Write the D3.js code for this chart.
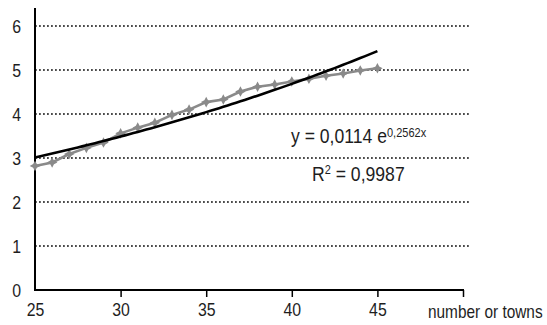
<!DOCTYPE html>
<html>
<head>
<meta charset="utf-8">
<script src="https://cdn.jsdelivr.net/npm/d3@7"></script>
<style>
  html, body { margin: 0; padding: 0; background: #fff; }
  svg { display: block; }
  text { font-family: "Liberation Sans", Arial, sans-serif; fill: #1e1e1e; }
</style>
</head>
<body>
<svg id="chart" width="547" height="325"></svg>
<script>
// Number of towns and the measured value for each
const towns = [25, 26, 27, 28, 29, 30, 31, 32, 33, 34, 35, 36, 37, 38, 39, 40, 41, 42, 43, 44, 45];
const values = [2.82, 2.90, 3.09, 3.23, 3.35, 3.56, 3.69, 3.80, 3.98, 4.10, 4.27, 4.33, 4.51, 4.62, 4.67, 4.74, 4.80, 4.87, 4.92, 4.99, 5.04];
const xTicks = [25, 30, 35, 40, 45, 50];
const xTickLabels = ["25", "30", "35", "40", "45", ""];
const yTicks = [0, 1, 2, 3, 4, 5, 6];
const xAxisTitle = "number or towns";
const equationText = "y = 0,0114 e";
const equationExp = "0,2562x";
const rSquaredText = "= 0,9987";

const svg = d3.select("#chart");
const plot = { left: 35, right: 463, top: 26, bottom: 290 };
const narrow = 0.88; // horizontal squeeze for the condensed lettering

// Squeeze text horizontally while keeping its anchor point in place
function condense(sel) {
  sel.each(function () {
    const t = d3.select(this);
    const px = +t.attr("x") || 0;
    t.attr("x", px / narrow).attr("transform", `scale(${narrow},1)`);
  });
}

const x = d3.scaleLinear().domain([25, 50]).range([plot.left, plot.right]);
const y = d3.scaleLinear().domain([0, 6]).range([plot.bottom, plot.top]);

// Dotted horizontal gridlines
svg.append("g")
  .selectAll("line")
  .data(yTicks.filter(d => d > 0))
  .join("line")
  .attr("x1", plot.left).attr("x2", 470)
  .attr("y1", d => y(d)).attr("y2", d => y(d))
  .attr("stroke", "#111").attr("stroke-width", 1.6)
  .attr("stroke-dasharray", "1.8,2.2");

// Y axis
const yAxis = d3.axisLeft(y).tickValues(yTicks).tickSize(0).tickPadding(14).tickFormat(d3.format("d"));
const gy = svg.append("g").attr("transform", `translate(${plot.left},0)`).call(yAxis);
gy.select(".domain").remove();
gy.selectAll("text").attr("font-size", 18).attr("font-family", null).attr("dy", "0.36em").call(condense);
svg.append("line")
  .attr("x1", plot.left).attr("x2", plot.left).attr("y1", 8).attr("y2", plot.bottom + 1)
  .attr("stroke", "#000").attr("stroke-width", 2);

// X axis
const xAxis = d3.axisBottom(x).tickValues(xTicks).tickSize(7).tickPadding(6)
  .tickFormat((d, i) => xTickLabels[i]);
const gx = svg.append("g").attr("transform", `translate(0,${plot.bottom})`).call(xAxis);
gx.select(".domain").remove();
gx.selectAll(".tick line").attr("stroke", "#000").attr("stroke-width", 1.5)
  .filter(d => d === 25).remove();
gx.selectAll("text").attr("font-size", 18).attr("font-family", null).call(condense);
svg.append("line")
  .attr("x1", plot.left - 1).attr("x2", plot.right + 1).attr("y1", plot.bottom).attr("y2", plot.bottom)
  .attr("stroke", "#000").attr("stroke-width", 2);

svg.append("text")
  .attr("x", 428).attr("y", 318)
  .attr("font-size", 17.5)
  .text(xAxisTitle)
  .call(condense);

// Measured series
const pts = towns.map((t, i) => [t, values[i]]);
svg.append("path")
  .datum(pts)
  .attr("fill", "none")
  .attr("stroke", "#8a8a8a")
  .attr("stroke-width", 2.6)
  .attr("d", d3.line().x(d => x(d[0])).y(d => y(d[1])));

// Four-pointed star markers
const starMarker = {
  draw(ctx, size) {
    const r = Math.sqrt(size) / 1.2, w = r * 0.35;
    ctx.moveTo(0, -r); ctx.lineTo(w, -w); ctx.lineTo(r, 0); ctx.lineTo(w, w);
    ctx.lineTo(0, r); ctx.lineTo(-w, w); ctx.lineTo(-r, 0); ctx.lineTo(-w, -w); ctx.closePath();
  }
};
svg.append("g")
  .selectAll("path")
  .data(pts)
  .join("path")
  .attr("transform", d => `translate(${x(d[0])},${y(d[1])})`)
  .attr("d", d3.symbol().type(starMarker).size(40))
  .attr("fill", "#8a8a8a");

// Exponential trendline: least squares on ln(value)
const ly = values.map(Math.log);
const mx = d3.mean(towns), my = d3.mean(ly);
const b = d3.sum(towns, (v, i) => (v - mx) * (ly[i] - my)) / d3.sum(towns, v => (v - mx) * (v - mx));
const a = Math.exp(my - b * mx);
const trendX = d3.range(towns[0], towns[towns.length - 1] + 0.001, 0.25);
svg.append("path")
  .datum(trendX)
  .attr("fill", "none")
  .attr("stroke", "#000")
  .attr("stroke-width", 2.6)
  .attr("d", d3.line().x(t => x(t)).y(t => y(a * Math.exp(b * t))));

// Equation and R² annotation
const eq = svg.append("text").attr("x", 291).attr("y", 143).attr("font-size", 20);
eq.append("tspan").text(equationText);
eq.append("tspan").attr("dy", -6).attr("font-size", 12.5).text(equationExp);
eq.call(condense);

const r2 = svg.append("text").attr("x", 312).attr("y", 181).attr("font-size", 20);
r2.append("tspan").text("R");
r2.append("tspan").attr("dy", -7).attr("font-size", 12.5).text("2");
r2.append("tspan").attr("dy", 7).text(" " + rSquaredText);
r2.call(condense);
</script>
</body>
</html>
